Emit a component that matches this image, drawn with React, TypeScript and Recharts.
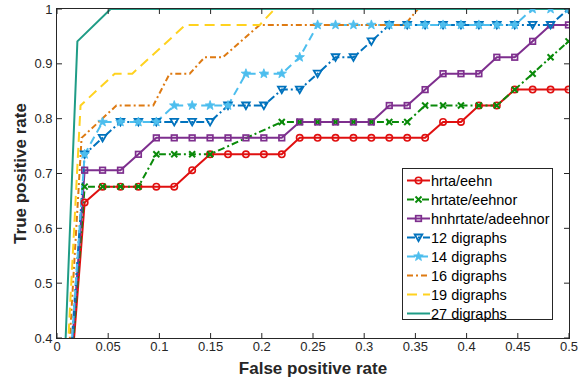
import React from 'react';
import { LineChart, Line, XAxis, YAxis } from 'recharts';

// shared false-positive-rate grid of the marked curves (first point is the origin)
const FPR = [
  0, 0.027, 0.0445, 0.062, 0.0795, 0.097, 0.1145, 0.132, 0.1495, 0.167, 0.1845,
  0.202, 0.2195, 0.237, 0.2545, 0.272, 0.2895, 0.307, 0.3245, 0.342, 0.3595,
  0.377, 0.3945, 0.412, 0.4295, 0.447, 0.4645, 0.482, 0.4995,
];

const HRTA = [
  0, 0.647, 0.676, 0.676, 0.676, 0.676, 0.676, 0.706, 0.735, 0.735, 0.735,
  0.735, 0.735, 0.765, 0.765, 0.765, 0.765, 0.765, 0.765, 0.765, 0.765,
  0.794, 0.794, 0.824, 0.824, 0.853, 0.853, 0.853, 0.853,
];
const HRTATE = [
  0, 0.676, 0.676, 0.676, 0.676, 0.735, 0.735, 0.735, 0.735, null, null,
  null, 0.794, 0.794, 0.794, 0.794, 0.794, 0.794, 0.794, 0.794, 0.824,
  0.824, 0.824, 0.824, 0.824, 0.853, 0.882, 0.912, 0.941,
];
const HNHRTATE = [
  0, 0.706, 0.706, 0.706, 0.735, 0.765, 0.765, 0.765, 0.765, 0.765, 0.765,
  0.765, 0.765, 0.794, 0.794, 0.794, 0.794, 0.794, 0.824, 0.824, 0.853,
  0.882, 0.882, 0.882, 0.912, 0.912, 0.941, 0.971, 0.971,
];
const DIG12 = [
  0, 0.735, 0.765, 0.794, 0.794, 0.794, 0.794, 0.794, 0.794, 0.824, 0.824,
  0.824, 0.853, 0.853, 0.882, 0.912, 0.912, 0.941, 0.971, 0.971, 0.971,
  0.971, 0.971, 0.971, 0.971, 0.971, 0.971, 0.971, 1,
];
const DIG14 = [
  0, 0.735, 0.794, 0.794, 0.794, 0.794, 0.824, 0.824, 0.824, 0.824, 0.882,
  0.882, 0.882, 0.912, 0.971, 0.971, 0.971, 0.971, 0.971, 0.971, 0.971,
  0.971, 0.971, 0.971, 0.971, 0.971, 1, 1, 1,
];

// unmarked curves, only their corners
const DIG16_FPR = [0, 0.024, 0.058, 0.094, 0.11, 0.1296, 0.1442, 0.162, 0.198, 0.3396, 0.3525, 0.5];
const DIG16_TPR = [0, 0.765, 0.824, 0.824, 0.882, 0.882, 0.912, 0.912, 0.971, 0.971, 1, 1];
const DIG19_FPR = [0, 0.023, 0.0564, 0.0735, 0.1255, 0.198, 0.2126, 0.5];
const DIG19_TPR = [0, 0.824, 0.882, 0.882, 0.971, 0.971, 1, 1];
const DIG27_FPR = [0, 0.0199, 0.0524, 0.5];
const DIG27_TPR = [0, 0.941, 1, 1];

const X_TICKS = [0, 0.05, 0.1, 0.15, 0.2, 0.25, 0.3, 0.35, 0.4, 0.45, 0.5];
const Y_TICKS = [0.4, 0.5, 0.6, 0.7, 0.8, 0.9, 1];

const W = 586;
const H = 379;
const MARGIN = { top: 9, right: 17, bottom: 11, left: 7 };
const Y_AXIS_W = 50;
const X_AXIS_H = 30;
const PLOT_LEFT = MARGIN.left + Y_AXIS_W;
const PLOT_RIGHT = W - MARGIN.right;
const PLOT_TOP = MARGIN.top;
const PLOT_BOTTOM = H - MARGIN.bottom - X_AXIS_H;

const AXIS = '#262626';
const FONT = '"Liberation Sans", Arial, Helvetica, sans-serif';

type Marker = 'circle' | 'cross' | 'square' | 'tri' | 'star' | null;

const SERIES: { key: string; name: string; color: string; dash?: string; marker: Marker }[] = [
  { key: 'hrta', name: 'hrta/eehn', color: '#E01010', marker: 'circle' },
  { key: 'hrtate', name: 'hrtate/eehnor', color: '#0A8A0A', dash: '7 3 2 3', marker: 'cross' },
  { key: 'hnhrtate', name: 'hnhrtate/adeehnor', color: '#7E2F8E', marker: 'square' },
  { key: 'd12', name: '12 digraphs', color: '#0072BD', dash: '8 3 2 3', marker: 'tri' },
  { key: 'd14', name: '14 digraphs', color: '#4DBEEE', dash: '8 5', marker: 'star' },
  { key: 'd16', name: '16 digraphs', color: '#DE7A12', dash: '6 3 2 3', marker: null },
  { key: 'd19', name: '19 digraphs', color: '#FFD21F', dash: '10 6', marker: null },
  { key: 'd27', name: '27 digraphs', color: '#1F9C86', marker: null },
];

const rows = FPR.map((x, i) => ({
  fpr: x,
  hrta: HRTA[i],
  hrtate: HRTATE[i],
  hnhrtate: HNHRTATE[i],
  d12: DIG12[i],
  d14: DIG14[i],
}));

const toPoints = (xs: number[], ys: number[], key: string) => xs.map((x, i) => ({ fpr: x, [key]: ys[i] }));
const d16Data = toPoints(DIG16_FPR, DIG16_TPR, 'd16');
const d19Data = toPoints(DIG19_FPR, DIG19_TPR, 'd19');
const d27Data = toPoints(DIG27_FPR, DIG27_TPR, 'd27');

function drawMarker(kind: Marker, cx: number, cy: number, color: string) {
  if (kind === 'circle') {
    return <circle cx={cx} cy={cy} r={3.2} fill="none" stroke={color} strokeWidth={1.6} />;
  }
  if (kind === 'cross') {
    const s = 3;
    return (
      <g stroke={color} strokeWidth={2}>
        <line x1={cx - s} y1={cy - s} x2={cx + s} y2={cy + s} />
        <line x1={cx - s} y1={cy + s} x2={cx + s} y2={cy - s} />
      </g>
    );
  }
  if (kind === 'square') {
    return <rect x={cx - 2.8} y={cy - 2.8} width={5.6} height={5.6} fill="none" stroke={color} strokeWidth={1.7} />;
  }
  if (kind === 'tri') {
    return (
      <polygon
        points={`${cx - 3.8},${cy - 3} ${cx + 3.8},${cy - 3} ${cx},${cy + 3.6}`}
        fill="none"
        stroke={color}
        strokeWidth={1.8}
      />
    );
  }
  if (kind === 'star') {
    const pts: string[] = [];
    for (let i = 0; i < 10; i++) {
      const r = i % 2 === 0 ? 5 : 2.1;
      const a = -Math.PI / 2 + (i * Math.PI) / 5;
      pts.push(`${cx + r * Math.cos(a)},${cy + r * Math.sin(a)}`);
    }
    return <polygon points={pts.join(' ')} fill={color} stroke={color} strokeWidth={0.8} />;
  }
  return null;
}

const makeDot = (kind: Marker, color: string) => (props: any) => {
  const { cx, cy, value, index } = props;
  if (cx == null || cy == null || value == null || value < 0.4) return <g key={`e-${index}`} />;
  return <g key={`m-${index}`}>{drawMarker(kind, cx, cy, color)}</g>;
};

const XTick = (props: any) => {
  const { x, payload, index } = props;
  return (
    <g>
      {index === 0 && (
        // axes box, sits half a pixel outside the plot so the lines at y=1 stay visible
        <rect
          x={PLOT_LEFT - 0.5}
          y={PLOT_TOP - 0.5}
          width={PLOT_RIGHT - PLOT_LEFT + 1}
          height={PLOT_BOTTOM - PLOT_TOP + 1}
          fill="none"
          stroke={AXIS}
          strokeWidth={1}
        />
      )}
      <line x1={x} x2={x} y1={PLOT_BOTTOM} y2={PLOT_BOTTOM - 5} stroke={AXIS} />
      <line x1={x} x2={x} y1={PLOT_TOP} y2={PLOT_TOP + 5} stroke={AXIS} />
      <text x={x} y={PLOT_BOTTOM + 12.5} textAnchor="middle" fontSize={13} fill={AXIS} fontFamily={FONT}>
        {String(payload.value)}
      </text>
    </g>
  );
};

const YTick = (props: any) => {
  const { y, payload } = props;
  return (
    <g>
      <line x1={PLOT_LEFT} x2={PLOT_LEFT + 5} y1={y} y2={y} stroke={AXIS} />
      <line x1={PLOT_RIGHT} x2={PLOT_RIGHT - 5} y1={y} y2={y} stroke={AXIS} />
      <text x={PLOT_LEFT - 4.5} y={y + 4.6} textAnchor="end" fontSize={13} fill={AXIS} fontFamily={FONT}>
        {String(payload.value)}
      </text>
    </g>
  );
};

const XTitle = () => (
  <text
    x={(PLOT_LEFT + PLOT_RIGHT) / 2}
    y={374}
    textAnchor="middle"
    fontSize={17}
    fontWeight="bold"
    fill={AXIS}
    fontFamily={FONT}
  >
    False positive rate
  </text>
);

const YTitle = () => {
  const cy = (PLOT_TOP + PLOT_BOTTOM) / 2;
  return (
    <text
      x={26}
      y={cy}
      transform={`rotate(-90, 26, ${cy})`}
      textAnchor="middle"
      fontSize={17}
      fontWeight="bold"
      fill={AXIS}
      fontFamily={FONT}
    >
      True positive rate
    </text>
  );
};

function LegendBox() {
  return (
    <div
      style={{
        position: 'absolute',
        left: 402,
        top: 168,
        width: 151,
        height: 152,
        border: `1px solid ${AXIS}`,
        background: '#fff',
        fontFamily: FONT,
        fontSize: 14.5,
        color: '#000',
        paddingTop: 2,
        boxSizing: 'border-box',
      }}
    >
      {SERIES.map((s) => (
        <div key={s.key} style={{ height: 19, display: 'flex', alignItems: 'center', whiteSpace: 'nowrap' }}>
          <svg width={28} height={19} style={{ flex: 'none' }}>
            <line x1={4} x2={27} y1={9.5} y2={9.5} stroke={s.color} strokeWidth={2} strokeDasharray={s.dash} />
            {drawMarker(s.marker, 15.5, 9.5, s.color)}
          </svg>
          <span>{s.name}</span>
        </div>
      ))}
    </div>
  );
}

export default function App() {
  const lineData: Record<string, any[] | undefined> = {
    d16: d16Data,
    d19: d19Data,
    d27: d27Data,
  };

  return (
    <div style={{ position: 'absolute', left: 0, top: 0, width: W, height: H, background: '#fff' }}>
      <LineChart width={W} height={H} data={rows} margin={MARGIN}>
        <XAxis
          dataKey="fpr"
          type="number"
          domain={[0, 0.5]}
          ticks={X_TICKS}
          interval={0}
          allowDataOverflow
          axisLine={false}
          tickLine={false}
          tick={<XTick />}
          height={X_AXIS_H}
          label={<XTitle />}
        />
        <YAxis
          type="number"
          domain={[0.4, 1]}
          ticks={Y_TICKS}
          interval={0}
          allowDataOverflow
          axisLine={false}
          tickLine={false}
          tick={<YTick />}
          width={Y_AXIS_W}
          label={<YTitle />}
        />
        {SERIES.map((s) => (
          <Line
            key={s.key}
            data={lineData[s.key]}
            dataKey={s.key}
            type="linear"
            stroke={s.color}
            strokeWidth={2}
            strokeDasharray={s.dash}
            connectNulls
            dot={s.marker ? makeDot(s.marker, s.color) : false}
            activeDot={false}
            isAnimationActive={false}
          />
        ))}
      </LineChart>
      <LegendBox />
    </div>
  );
}
